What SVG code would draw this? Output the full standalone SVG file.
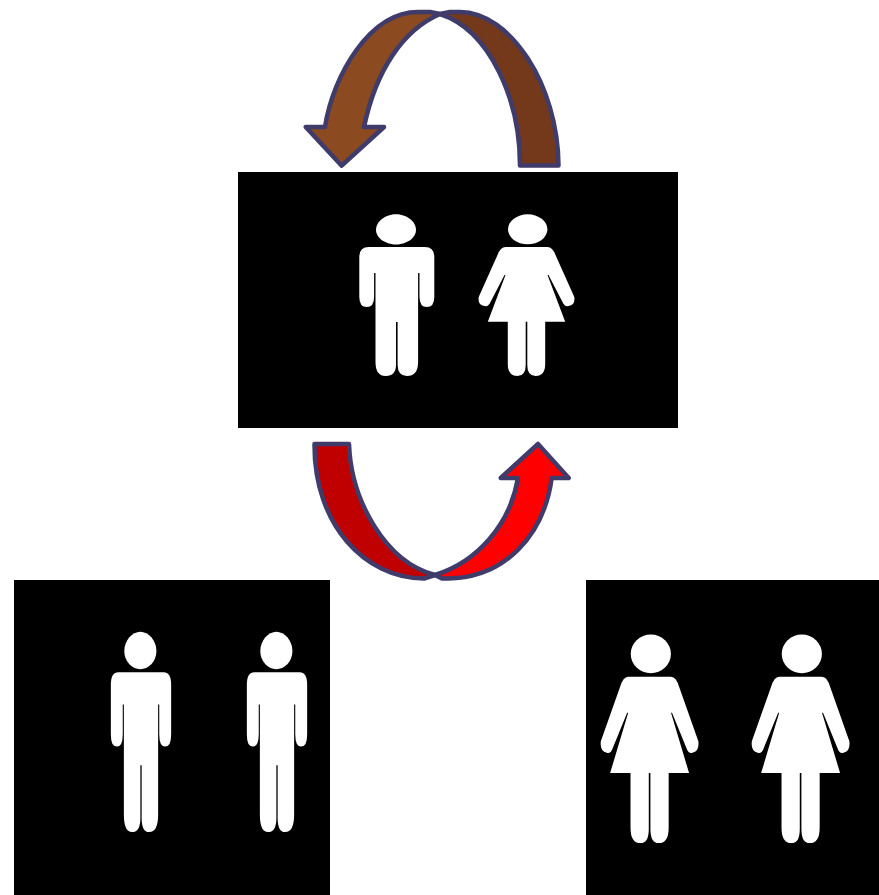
<svg xmlns="http://www.w3.org/2000/svg" width="879" height="895" viewBox="0 0 879 895">
<style>
.panel{fill:#000}
.fig{fill:#fff}
.arw{stroke:#3f3b6b;stroke-width:4.5;stroke-linejoin:round}
</style>
<defs>
<g id="man" class="fig">
<path d="M-.8,-32.8C9,-32.8 19.2,-26 19.2,-17.2C19.2,-8.4 9,-2.5 -.8,-2.5C-10.6,-2.5 -20.8,-8.4 -20.8,-17.2C-20.8,-26 -10.6,-32.8 -.8,-32.8Z"/>
<path d="M-28,0H28Q37.5,0 37.5,10V50Q37.5,60 30,60Q22.7,60 22.7,50V26H21.3V115Q21.3,129 10,129Q1,129 .8,118V75H-.8V118Q-1,129 -11,129Q-21.3,129 -21.3,115V26H-22.7V50Q-22.7,60 -30,60Q-37.5,60 -37.5,50V10Q-37.5,0 -28,0Z"/>
</g>
<g id="woman" class="fig">
<ellipse cx="1.2" cy="-17.7" rx="19.7" ry="15"/>
<path d="M-21,0H21Q26,0 29,8L47.8,50Q49,58 42,59Q38,60 36,55L22,28H21L38.7,74.7H18.7V117Q18.7,129 9,129Q.8,129 .8,118V74.7H-.8V118Q-.8,129 -9,129Q-18.7,129 -18.7,117V74.7H-38.7L-21,28H-22L-36,55Q-38,60 -42,59Q-49,58 -47.8,50L-29,8Q-26,0 -21,0Z"/>
</g>
</defs>
<rect width="879" height="895" fill="#fff"/>
<g id="node-couple">
<rect class="panel" x="238" y="172" width="440" height="256"/>
<use href="#man" transform="translate(396.8,247)"/>
<use href="#woman" transform="translate(526.5,247)"/>
</g>
<g id="node-men">
<rect class="panel" x="14" y="580" width="316" height="315"/>
<use href="#man" transform="translate(141,672.3) scale(.804,1.238)"/>
<use href="#man" transform="translate(277,672.3) scale(.804,1.238)"/>
</g>
<g id="node-women">
<rect class="panel" x="586" y="580" width="293" height="315"/>
<use href="#woman" transform="translate(649.6,676.7) scale(1.02,1.29)"/>
<use href="#woman" transform="translate(800.6,676.7) scale(1.02,1.29)"/>
</g>
<g id="connectors">
<g id="arrow-top">
<path class="arw" fill="#74391a" d="M440,14L450,12H460C510,12 558,85 558.5,165.5H520C520,100 490,30 440,14Z"/>
<path class="arw" fill="#8b4a20" d="M440,14C403,30 376,70 364,127H384L341.7,165.7L305.7,127H325C333,75 370,12 418,12H430Z"/>
</g>
<g id="arrow-bottom">
<path class="arw" fill="#c00000" d="M314.5,444H349C351,500 385,562 435,575L424,578.5C365,578 314,525 314.5,444Z"/>
<path class="arw" fill="#f00" d="M435,575C477,562 510,525 518,478H500.7L538,444L568.7,478H551.7C544,535 505,578 448,578.5H442Z"/>
</g>
</g>
</svg>
